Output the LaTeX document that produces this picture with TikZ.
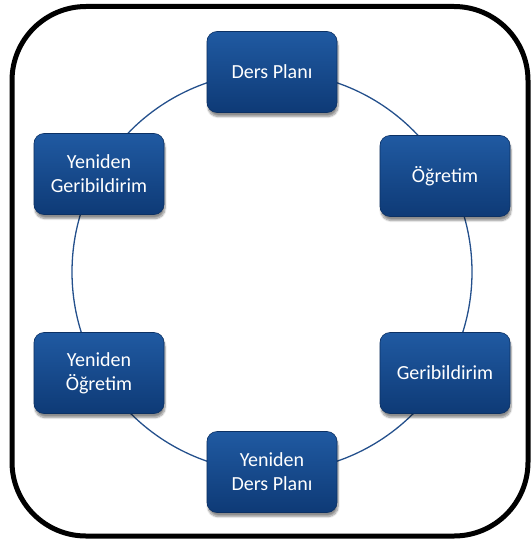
\documentclass[tikz,border=0pt]{standalone}
\usepackage{fontspec}
\setmainfont{Carlito}
\usetikzlibrary{shadows.blur}
\definecolor{boxtop}{RGB}{32,90,162}
\definecolor{boxbot}{RGB}{14,58,118}
\definecolor{ringblue}{RGB}{36,80,140}
\tikzset{
  stagebox/.style={
    rounded corners=10pt, minimum width=130pt, minimum height=81pt,
    top color=boxtop, bottom color=boxbot, draw=boxbot!85!black, line width=0.6pt,
    text=white, align=center, inner sep=2pt,
    font=\fontsize{20}{24}\selectfont,
    blur shadow={shadow xshift=1pt, shadow yshift=-4pt, shadow blur steps=8, shadow opacity=45}
  },
  ring/.style={draw=ringblue, line width=1.3pt},
  frame/.style={draw=black, line width=5pt, rounded corners=74pt}
}
\begin{document}
\begin{tikzpicture}[x=1pt,y=-1pt]
  \useasboundingbox (0,0) rectangle (530,543);
  % outer frame
  \draw[frame] (12,6.5) rectangle (528,536);
  % cycle ring
  \coordinate (ctr) at (272,272);
  \draw[ring] (ctr) circle[radius=200];
  % stages around the ring
  \node[stagebox] (plan)    at (272,72)  {Ders Planı};
  \node[stagebox] (teach)   at (445,176) {Öğretim};
  \node[stagebox] (fb)      at (445,373) {Geribildirim};
  \node[stagebox] (replan)  at (272,472) {Yeniden\\Ders Planı};
  \node[stagebox] (reteach) at (99,373)  {Yeniden\\Öğretim};
  \node[stagebox] (refb)    at (99,174)  {Yeniden\\Geribildirim};
\end{tikzpicture}
\end{document}
